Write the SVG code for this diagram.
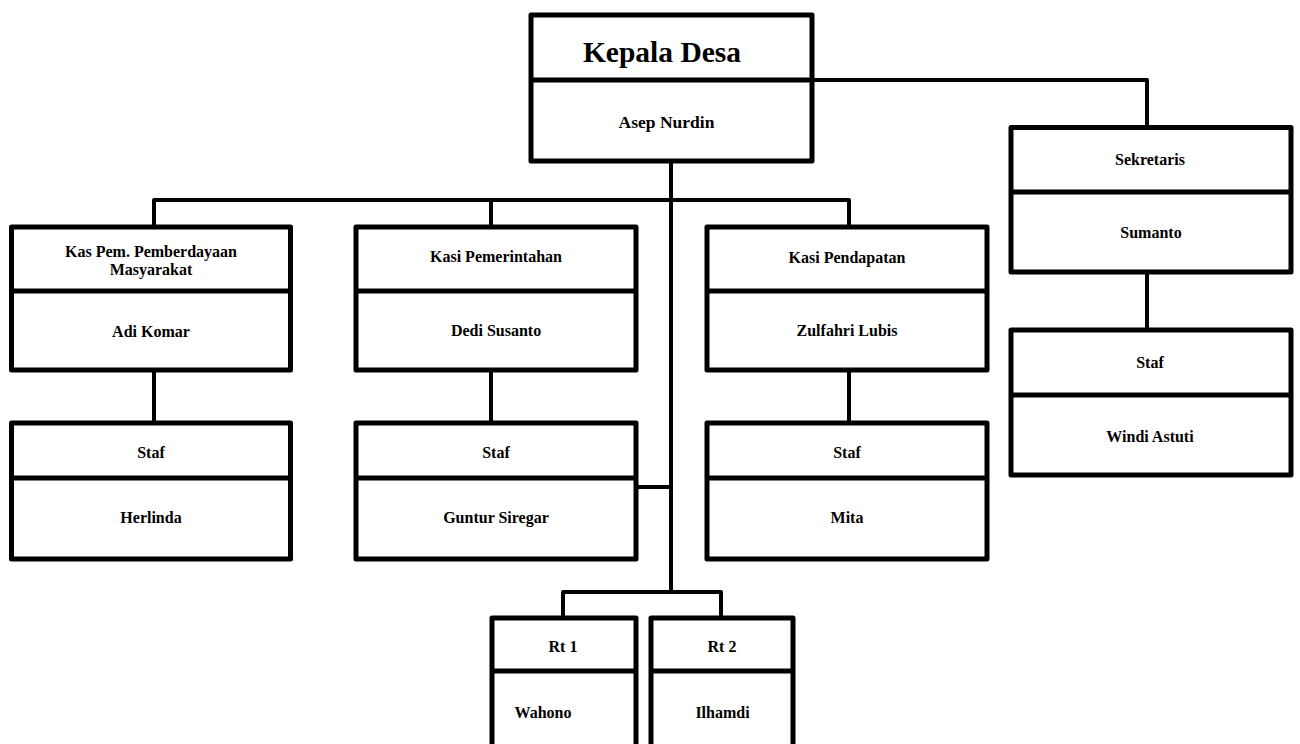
<svg xmlns="http://www.w3.org/2000/svg" width="1300" height="744" viewBox="0 0 1300 744">
<style>
.box{fill:#fff;stroke:#000;stroke-width:5;stroke-linejoin:round}
.div{stroke:#000;stroke-width:5}
.con{fill:none;stroke:#000;stroke-width:4;stroke-linejoin:round}
text{font-family:"Liberation Serif","Times New Roman",serif;font-weight:bold;font-size:16px;text-anchor:middle;fill:#000}
.title{font-size:29.5px}
.name{font-size:17.5px}
</style>
<rect width="1300" height="744" fill="#fff"/>
<g id="connectors">
<path class="con" d="M671 161 V592"/>
<path class="con" d="M154 227 V200 H849 V227"/>
<path class="con" d="M491 200 V227"/>
<path class="con" d="M812 80 H1147 V127"/>
<path class="con" d="M154 370 V423"/>
<path class="con" d="M491 370 V423"/>
<path class="con" d="M849 370 V423"/>
<path class="con" d="M1147 272 V330"/>
<path class="con" d="M636 487 H671"/>
<path class="con" d="M563 618 V592 H721 V618"/>
</g>
<g id="kepala">
<rect class="box" x="531" y="15" width="281" height="146"/>
<line class="div" x1="531" y1="80" x2="812" y2="80"/>
<text class="title" x="662" y="62">Kepala Desa</text>
<text class="name" x="666.5" y="128">Asep Nurdin</text>
</g>
<g id="kaspem">
<rect class="box" x="11.5" y="227" width="279" height="143"/>
<line class="div" x1="11.5" y1="291" x2="290.5" y2="291"/>
<text x="151" y="257">Kas Pem. Pemberdayaan</text>
<text x="151" y="275">Masyarakat</text>
<text x="151" y="337">Adi Komar</text>
</g>
<g id="kasipem">
<rect class="box" x="356" y="227" width="280" height="143"/>
<line class="div" x1="356" y1="291" x2="636" y2="291"/>
<text x="496" y="262">Kasi Pemerintahan</text>
<text x="496" y="336">Dedi Susanto</text>
</g>
<g id="kasipend">
<rect class="box" x="707" y="227" width="280" height="143"/>
<line class="div" x1="707" y1="291" x2="987" y2="291"/>
<text x="847" y="263">Kasi Pendapatan</text>
<text x="847" y="336">Zulfahri Lubis</text>
</g>
<g id="staf1">
<rect class="box" x="11.5" y="423" width="279" height="136"/>
<line class="div" x1="11.5" y1="478" x2="290.5" y2="478"/>
<text x="151" y="458">Staf</text>
<text x="151" y="523">Herlinda</text>
</g>
<g id="staf2">
<rect class="box" x="356" y="423" width="280" height="136"/>
<line class="div" x1="356" y1="478" x2="636" y2="478"/>
<text x="496" y="458">Staf</text>
<text x="496" y="523">Guntur Siregar</text>
</g>
<g id="staf3">
<rect class="box" x="707" y="423" width="280" height="136"/>
<line class="div" x1="707" y1="478" x2="987" y2="478"/>
<text x="847" y="458">Staf</text>
<text x="847" y="523">Mita</text>
</g>
<g id="sekretaris">
<rect class="box" x="1011" y="127.5" width="280" height="144.5"/>
<line class="div" x1="1011" y1="192" x2="1291" y2="192"/>
<text x="1150" y="165">Sekretaris</text>
<text x="1151" y="238">Sumanto</text>
</g>
<g id="staf4">
<rect class="box" x="1011" y="330" width="280" height="145"/>
<line class="div" x1="1011" y1="395" x2="1291" y2="395"/>
<text x="1150" y="368">Staf</text>
<text x="1150" y="442">Windi Astuti</text>
</g>
<g id="rt1">
<rect class="box" x="492" y="618" width="144" height="150"/>
<line class="div" x1="492" y1="671" x2="636" y2="671"/>
<text x="563" y="652">Rt 1</text>
<text x="543" y="718">Wahono</text>
</g>
<g id="rt2">
<rect class="box" x="651" y="618" width="142" height="150"/>
<line class="div" x1="651" y1="671" x2="793" y2="671"/>
<text x="722" y="652">Rt 2</text>
<text x="722.5" y="718">Ilhamdi</text>
</g>
</svg>
